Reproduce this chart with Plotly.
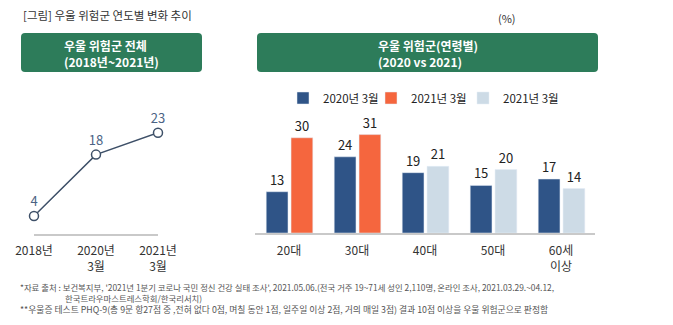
import plotly.graph_objects as go

# Overall depression-risk share by survey period (%)
periods = ["2018년", "2020년<br>3월", "2021년<br>3월"]
overall = [4, 18, 23]

# Depression-risk share by age group (%)
age_groups = ["20대", "30대", "40대", "50대", "60세<br>이상"]
risk_2020 = [13, 24, 19, 15, 17]
risk_2021_young = [30, 31, None, None, None]
risk_2021_older = [None, None, 21, 20, 14]

legend_2020 = "2020년 3월"
legend_2021 = "2021년 3월"

title_text = "[그림] 우울 위험군 연도별 변화 추이"
left_header = "우울 위험군 전체<br>(2018년~2021년)"
right_header = "우울 위험군(연령별)<br>(2020 vs 2021)"
notes = [
    "*자료 출처 : 보건복지부, '2021년 1분기 코로나 국민 정신 건강 실태 조사', 2021.05.06.(전국 거주 19~71세 성인 2,110명, 온라인 조사, 2021.03.29.~04.12,",
    "한국트라우마스트레스학회/한국리서치)",
    "**우울증 테스트 PHQ-9(총 9문 항27점 중 ,전혀 없다 0점, 며칠 동안 1점, 일주일 이상 2점, 거의 매일 3점) 결과 10점 이상을 우울 위험군으로 판정함",
]

W, H = 673, 325
FONT = "Noto Sans CJK KR"
GREEN = "#2d7c5a"
BLUE = "#2f5487"
ORANGE = "#f5663e"
LIGHT = "#cddbe6"
LINE = "#3e5068"


def px_x(v):
    return v / W


def px_y(v):
    return 1 - v / H


fig = go.Figure()

# Left panel: overall trend line
fig.add_trace(go.Scatter(
    x=periods, y=overall, mode="lines+markers+text",
    line=dict(color=LINE, width=1.5),
    marker=dict(size=9, color="white", line=dict(color=LINE, width=1.5)),
    text=[str(v) for v in overall], textposition="top center",
    textfont=dict(size=13, color="#4b6384", family=FONT),
    cliponaxis=False, showlegend=False, xaxis="x", yaxis="y",
))

# Right panel: grouped bars by age, one legend box per series
bar_w = 0.32
bar_text = dict(size=13, color="#222222", family=FONT)
fig.add_trace(go.Bar(
    x=age_groups, y=risk_2020, name=legend_2020, marker_color=BLUE,
    width=bar_w, offset=-0.335, texttemplate="%{y}", textposition="outside",
    textfont=bar_text, cliponaxis=False, xaxis="x2", yaxis="y2", legend="legend",
))
fig.add_trace(go.Bar(
    x=age_groups, y=risk_2021_young, name=legend_2021, marker_color=ORANGE,
    width=bar_w, offset=0.03, texttemplate="%{y}", textposition="outside",
    textfont=bar_text, cliponaxis=False, xaxis="x2", yaxis="y2", legend="legend2",
))
fig.add_trace(go.Bar(
    x=age_groups, y=risk_2021_older, name=legend_2021, marker_color=LIGHT,
    width=bar_w, offset=0.03, texttemplate="%{y}", textposition="outside",
    textfont=bar_text, cliponaxis=False, xaxis="x2", yaxis="y2", legend="legend3",
))


def rounded_rect(x0, y0, x1, y1, rx, ry):
    return (f"M{x0 + rx},{y0} L{x1 - rx},{y0} Q{x1},{y0} {x1},{y0 - ry} "
            f"L{x1},{y1 + ry} Q{x1},{y1} {x1 - rx},{y1} L{x0 + rx},{y1} "
            f"Q{x0},{y1} {x0},{y1 + ry} L{x0},{y0 - ry} Q{x0},{y0} {x0 + rx},{y0} Z")


RX, RY = 4 / W, 4 / H
shapes = [
    dict(type="path", xref="paper", yref="paper", layer="below",
         path=rounded_rect(px_x(21), px_y(33), px_x(202), px_y(72), RX, RY),
         fillcolor=GREEN, line=dict(width=0)),
    dict(type="path", xref="paper", yref="paper", layer="below",
         path=rounded_rect(px_x(257), px_y(33), px_x(598), px_y(72), RX, RY),
         fillcolor=GREEN, line=dict(width=0)),
]


def note(text, x, y, size=8.3, color="#555555", anchor="left", bold=False):
    return dict(text=("<b>" + text + "</b>") if bold else text,
                x=px_x(x), y=px_y(y), xref="paper", yref="paper",
                xanchor=anchor, yanchor="middle", showarrow=False, align="left",
                font=dict(size=size, color=color, family=FONT))


# Footnote block: the second line is indented under the source label
indent = "\u00a0" * 24
footnote = "<br>".join([
    notes[0],
    indent + notes[1],
    '<span style="font-size:8.8px">' + notes[2] + "</span>",
])

annotations = [
    note(title_text, 21, 15, size=11.5, color="#333333"),
    note("(%)", 507, 18, size=11, color="#333333", anchor="center"),
    note(left_header, 111.5, 53, size=12, color="white", anchor="center", bold=True),
    note(right_header, 427.5, 53, size=12, color="white", anchor="center", bold=True),
    note(footnote, 18, 298, size=8.4),
]


def legend_box(x_px):
    return dict(orientation="h", x=px_x(x_px), y=px_y(98), xanchor="left",
                yanchor="middle", bgcolor="rgba(0,0,0,0)",
                font=dict(size=11.5, color="#222222", family=FONT))


fig.update_layout(
    width=W, height=H,
    margin=dict(l=0, r=0, t=0, b=0, autoexpand=False),
    paper_bgcolor="white", plot_bgcolor="rgba(0,0,0,0)",
    font=dict(family=FONT, color="#333333"),
    barmode="overlay",
    shapes=shapes, annotations=annotations,
    xaxis=dict(domain=[px_x(34), px_x(158)], type="category", range=[0, 2],
               showline=True, linecolor="#c9c9c9", linewidth=2, ticks="",
               ticklabelstandoff=5,
               showgrid=False, zeroline=False, fixedrange=True,
               tickfont=dict(size=12, color="#333333", family=FONT)),
    yaxis=dict(domain=[1 - 233.5 / H, 1 - 102 / H], range=[0, 30], visible=False),
    xaxis2=dict(domain=[px_x(255), px_x(595)], type="category", range=[-0.5, 4.5],
                anchor="y2", showline=True, linecolor="#c9c9c9", linewidth=1.5,
                ticks="", ticklabelstandoff=6, showgrid=False, zeroline=False,
                tickfont=dict(size=12, color="#333333", family=FONT)),
    yaxis2=dict(domain=[1 - 233 / H, 1 - 106 / H], range=[0, 40], anchor="x2",
                visible=False),
    legend=legend_box(283),
    legend2=legend_box(371),
    legend3=legend_box(463),
)

fig.write_html("out.html")
